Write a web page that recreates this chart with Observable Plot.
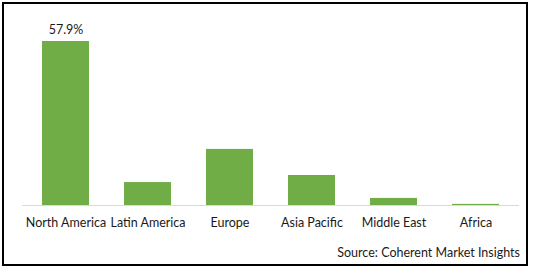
<!DOCTYPE html>
<html>
<head>
<meta charset="utf-8">
<script src="https://cdn.jsdelivr.net/npm/d3@7"></script>
<script src="https://cdn.jsdelivr.net/npm/@observablehq/plot@0.6"></script>
<style>
  html, body { margin: 0; padding: 0; background: #fff; }
  #frame { position: absolute; left: 2px; top: 2px; width: 526px; height: 264px; box-sizing: border-box; border: 2px solid #000; }
  #chart { position: absolute; left: 0; top: 0; }
  #source { position: absolute; right: 13px; top: 245px; font-family: Lato, sans-serif; font-size: 12.5px; color: #1a1a1a; }
</style>
</head>
<body>
<div id="frame"></div>
<div id="chart"></div>
<div id="source">Source: Coherent Market Insights</div>
<script>
const regions = ["North America", "Latin America", "Europe", "Asia Pacific", "Middle East", "Africa"];
const shares = [57.9, 8.1, 19.8, 10.6, 2.5, 0.4];
const shareLabels = ["57.9%", "", "", "", "", ""];

const data = regions.map((r, i) => ({region: r, share: shares[i], label: shareLabels[i]}));

const chart = Plot.plot({
  width: 533,
  height: 235,
  marginLeft: 22,
  marginRight: 14,
  marginTop: 41,
  marginBottom: 30,
  style: {fontFamily: "Lato, sans-serif", fontSize: "12.5px", color: "#1a1a1a", background: "transparent"},
  x: {domain: regions, paddingInner: 0.43, paddingOuter: 0.215, label: null, tickSize: 0, tickPadding: 13},
  y: {domain: [0, 57.9], axis: null},
  marks: [
    Plot.barY(data, {x: "region", y: "share", fill: "#70AD47"}),
    Plot.ruleY([0], {stroke: "#d9d9d9", strokeWidth: 1}),
    Plot.text(data.filter(d => d.label), {x: "region", y: "share", text: "label", lineAnchor: "bottom", dy: -8, fill: "#1a1a1a", fontSize: 12.5})
  ]
});
document.getElementById("chart").appendChild(chart);
</script>
</body>
</html>
